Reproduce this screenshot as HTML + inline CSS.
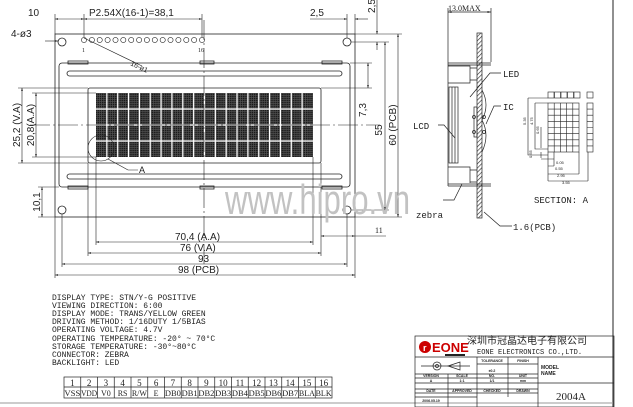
<!DOCTYPE html>
<html><head><meta charset="utf-8"><style>
html,body{margin:0;padding:0;background:#fff;}
svg{display:block;font-family:"Liberation Sans",sans-serif;}
text{fill:#222;}
.m{font-family:"Liberation Mono",monospace;}
.s{font-family:"Liberation Serif",serif;}
</style></head><body>
<svg width="633" height="407" viewBox="0 0 633 407" xmlns="http://www.w3.org/2000/svg">
<defs>
<marker id="a" viewBox="0 0 10 10" refX="10" refY="5" markerWidth="5" markerHeight="5" orient="auto-start-reverse"><path d="M0,2 L10,5 L0,8z" fill="#222"/></marker>
<pattern id="dots" width="2.17" height="2" patternUnits="userSpaceOnUse"><rect width="2.17" height="2" fill="#555"/><rect width="1.5" height="1.4" fill="#1a1a1a"/></pattern>
<pattern id="hatch" width="3" height="3" patternUnits="userSpaceOnUse" patternTransform="rotate(45)"><rect width="3" height="3" fill="#fff"/><line x1="0" y1="0" x2="0" y2="3" stroke="#333" stroke-width="1.3"/></pattern>
</defs>
<g stroke="#222" stroke-width="0.8" fill="none">
<rect x="55" y="34" width="300" height="183"/>
<circle cx="62" cy="42" r="4"/><circle cx="347" cy="42" r="4"/>
<circle cx="62" cy="210" r="4"/><circle cx="347" cy="210" r="4"/>
<rect x="59" y="63" width="291" height="124" rx="3"/>
<rect x="68" y="61" width="20" height="3"/><rect x="200" y="61" width="14" height="3"/><rect x="322" y="61" width="20" height="3"/>
<rect x="68" y="186" width="20" height="3"/><rect x="200" y="186" width="14" height="3"/><rect x="322" y="186" width="20" height="3"/>
<rect x="67" y="71" width="275" height="5" rx="2.5"/>
<rect x="67" y="174" width="275" height="5" rx="2.5"/>
<rect x="88" y="88" width="233" height="75" rx="2"/>
</g>
<rect x="96" y="93" width="217" height="64" fill="url(#dots)"/>
<g stroke="#fff" stroke-width="1.2">
<line x1="96" y1="109" x2="313" y2="109"/><line x1="96" y1="125" x2="313" y2="125"/><line x1="96" y1="141" x2="313" y2="141"/>
<line x1="106.85" y1="93" x2="106.85" y2="157"/><line x1="117.7" y1="93" x2="117.7" y2="157"/><line x1="128.55" y1="93" x2="128.55" y2="157"/><line x1="139.4" y1="93" x2="139.4" y2="157"/><line x1="150.25" y1="93" x2="150.25" y2="157"/><line x1="161.1" y1="93" x2="161.1" y2="157"/><line x1="171.95" y1="93" x2="171.95" y2="157"/><line x1="182.8" y1="93" x2="182.8" y2="157"/><line x1="193.65" y1="93" x2="193.65" y2="157"/><line x1="204.5" y1="93" x2="204.5" y2="157"/><line x1="215.35" y1="93" x2="215.35" y2="157"/><line x1="226.2" y1="93" x2="226.2" y2="157"/><line x1="237.05" y1="93" x2="237.05" y2="157"/><line x1="247.9" y1="93" x2="247.9" y2="157"/><line x1="258.75" y1="93" x2="258.75" y2="157"/><line x1="269.6" y1="93" x2="269.6" y2="157"/><line x1="280.45" y1="93" x2="280.45" y2="157"/><line x1="291.3" y1="93" x2="291.3" y2="157"/><line x1="302.15" y1="93" x2="302.15" y2="157"/>
</g>
<g stroke="#222" stroke-width="0.6" fill="none">
<circle cx="84" cy="40" r="2.6"/><circle cx="91.9" cy="40" r="2.6"/><circle cx="99.7" cy="40" r="2.6"/><circle cx="107.6" cy="40" r="2.6"/><circle cx="115.5" cy="40" r="2.6"/><circle cx="123.3" cy="40" r="2.6"/><circle cx="131.2" cy="40" r="2.6"/><circle cx="139.1" cy="40" r="2.6"/><circle cx="146.9" cy="40" r="2.6"/><circle cx="154.8" cy="40" r="2.6"/><circle cx="162.7" cy="40" r="2.6"/><circle cx="170.5" cy="40" r="2.6"/><circle cx="178.4" cy="40" r="2.6"/><circle cx="186.3" cy="40" r="2.6"/><circle cx="194.1" cy="40" r="2.6"/><circle cx="202" cy="40" r="2.6"/>
<path d="M84 38 L142 66"/>
<circle cx="101" cy="148" r="13"/>
<path d="M108 159 L128 170 L138 170"/>
<line x1="30" y1="125" x2="380" y2="125" stroke-dasharray="20 3 2 3"/>
<line x1="204" y1="20" x2="204" y2="265" stroke-dasharray="20 3 2 3"/>
<line x1="55" y1="14" x2="55" y2="34"/><line x1="84" y1="14" x2="84" y2="37"/><line x1="202" y1="14" x2="202" y2="37"/>
<line x1="55" y1="19" x2="84" y2="19" marker-start="url(#a)" marker-end="url(#a)"/>
<line x1="84" y1="19" x2="202" y2="19" marker-start="url(#a)" marker-end="url(#a)"/>
<line x1="310" y1="19" x2="347" y2="19" marker-end="url(#a)"/><line x1="355" y1="19" x2="368" y2="19" marker-start="url(#a)"/>
<line x1="347" y1="14" x2="347" y2="38"/><line x1="355" y1="14" x2="355" y2="34"/>
<line x1="45" y1="41" x2="58" y2="41" marker-end="url(#a)"/>
<line x1="96" y1="157" x2="96" y2="245"/><line x1="313" y1="157" x2="313" y2="245"/>
<line x1="88" y1="163" x2="88" y2="256"/><line x1="321" y1="163" x2="321" y2="256"/>
<line x1="62" y1="214" x2="62" y2="267"/><line x1="347" y1="214" x2="347" y2="267"/>
<line x1="55" y1="217" x2="55" y2="278"/><line x1="355" y1="217" x2="355" y2="278"/>
<line x1="96" y1="242" x2="313" y2="242" marker-start="url(#a)" marker-end="url(#a)"/>
<line x1="88" y1="253" x2="321" y2="253" marker-start="url(#a)" marker-end="url(#a)"/>
<line x1="62" y1="264" x2="347" y2="264" marker-start="url(#a)" marker-end="url(#a)"/>
<line x1="55" y1="275" x2="355" y2="275" marker-start="url(#a)" marker-end="url(#a)"/>
<line x1="321" y1="236" x2="355" y2="236" marker-start="url(#a)" marker-end="url(#a)"/><line x1="355" y1="236" x2="386" y2="236"/>
<line x1="18" y1="88" x2="88" y2="88"/><line x1="18" y1="163" x2="88" y2="163"/>
<line x1="32" y1="93" x2="96" y2="93"/><line x1="32" y1="157" x2="96" y2="157"/>
<line x1="22" y1="88" x2="22" y2="163" marker-start="url(#a)" marker-end="url(#a)"/>
<line x1="36" y1="93" x2="36" y2="157" marker-start="url(#a)" marker-end="url(#a)"/>
<line x1="38" y1="187" x2="59" y2="187"/><line x1="38" y1="217" x2="55" y2="217"/>
<line x1="42" y1="187" x2="42" y2="217" marker-start="url(#a)" marker-end="url(#a)"/>
<line x1="350" y1="63" x2="372" y2="63"/><line x1="321" y1="88" x2="372" y2="88"/>
<line x1="368" y1="63" x2="368" y2="88" marker-start="url(#a)" marker-end="url(#a)"/>
<line x1="351" y1="42" x2="389" y2="42"/><line x1="351" y1="210" x2="389" y2="210"/>
<line x1="385" y1="42" x2="385" y2="210" marker-start="url(#a)" marker-end="url(#a)"/>
<line x1="355" y1="34" x2="402" y2="34"/><line x1="355" y1="217" x2="402" y2="217"/>
<line x1="398" y1="34" x2="398" y2="217" marker-start="url(#a)" marker-end="url(#a)"/>
<line x1="377" y1="0" x2="377" y2="34" marker-end="url(#a)"/><line x1="377" y1="42" x2="377" y2="50" marker-start="url(#a)"/>
<line x1="613" y1="0" x2="613" y2="407" stroke-width="1"/>
<line x1="0" y1="403" x2="613" y2="403" stroke="#999" stroke-width="1"/>
</g>
<text x="225" y="214" font-size="42" style="fill:#c2c2c2" textLength="185" lengthAdjust="spacingAndGlyphs">www.hipro.vn</text>
<g font-size="10">
<text x="28" y="16">10</text>
<text x="89" y="16">P2.54X(16-1)=38,1</text>
<text x="310" y="16">2,5</text>
<text x="11" y="37">4-ø3</text>
<text x="130" y="65" font-size="7" transform="rotate(25 130 65)">16-ø1</text>
<text x="139" y="173" font-size="9">A</text>
<text x="175" y="240">70,4 (A.A)</text>
<text x="180" y="251">76 (V.A)</text>
<text x="198" y="262">93</text>
<text x="178" y="273">98 (PCB)</text>
<text x="375" y="233" font-size="8" class="s">11</text>
<text transform="translate(20 125) rotate(-90)" text-anchor="middle">25,2 (V.A)</text>
<text transform="translate(34 125) rotate(-90)" text-anchor="middle">20,8(A.A)</text>
<text transform="translate(40 202) rotate(-90)" text-anchor="middle">10,1</text>
<text transform="translate(366 110) rotate(-90)" text-anchor="middle">7,3</text>
<text transform="translate(382 130) rotate(-90)" text-anchor="middle">55</text>
<text transform="translate(396 125) rotate(-90)" text-anchor="middle">60 (PCB)</text>
<text transform="translate(375 6) rotate(-90)" text-anchor="middle">2,5</text>
</g>
<text x="82" y="52" font-size="6" class="s">1</text><text x="198" y="52" font-size="6" class="s">16</text>
<g stroke="#222" stroke-width="0.7" fill="none">
<line x1="448" y1="8" x2="448" y2="63"/><line x1="491" y1="8" x2="491" y2="62"/>
<line x1="448" y1="12" x2="491" y2="12" marker-start="url(#a)" marker-end="url(#a)"/>
<rect x="477" y="33" width="5" height="185" fill="url(#hatch)"/>
<line x1="448" y1="63" x2="491" y2="63"/><line x1="448" y1="65" x2="491" y2="65"/>
<line x1="448" y1="184" x2="491" y2="184"/><line x1="448" y1="186" x2="491" y2="186"/>
<path d="M448 63 V186 M448 66 H470 V83 H448 M470 68 H477 M470 80 H477 M448 167 H470 V183 M470 170 H477 M470 182 H477"/>
<rect x="449" y="87" width="9" height="76"/><line x1="452" y1="87" x2="452" y2="163"/><line x1="455" y1="87" x2="455" y2="163"/>
<rect x="474" y="107" width="3" height="30"/>
<path d="M482 90 Q490 105 482 120 Q490 135 482 152"/>
<circle cx="474" cy="117" r="1.5"/><circle cx="474" cy="132" r="1.5"/><circle cx="484" cy="117" r="1.5"/><circle cx="484" cy="132" r="1.5"/>
<path d="M438 125 H444 L455 138" /><path d="M501 73 H490 L470 97"/><path d="M501 106 H494 L486 124"/>
<path d="M443 200 H454 L462 184"/><path d="M512 226 H500 L484 212"/>
</g>
<g font-size="9" class="m">
<text x="448" y="11" font-size="8" class="s">13.0MAX</text>
<text x="503" y="77">LED</text>
<text x="503" y="110">IC</text>
<text x="413" y="129">LCD</text>
<text x="416" y="218">zebra</text>
<text x="513" y="230">1.6(PCB)</text>
<text x="534" y="203">SECTION: A</text>
</g>
<g stroke="#222" stroke-width="0.6" fill="none">
<rect x="548" y="92" width="6" height="6"/><rect x="554.5" y="92" width="6" height="6"/><rect x="561" y="92" width="6" height="6"/><rect x="567.5" y="92" width="6" height="6"/><rect x="574" y="92" width="6" height="6"/>
<rect x="587" y="92" width="6" height="6"/>
<rect x="548" y="103" width="31" height="49"/>
<path d="M554.2 103V152M560.4 103V152M566.6 103V152M572.8 103V152M548 109.1H579M548 115.2H579M548 121.4H579M548 127.5H579M548 133.6H579M548 139.8H579M548 145.9H579"/>
<rect x="587" y="103" width="6" height="49"/><path d="M587 109.1H593M587 115.2H593M587 121.4H593M587 127.5H593M587 133.6H593M587 139.8H593M587 145.9H593"/>
<path d="M528 98H548M528 98V155H548M535 103H548M535 103V149H548M541 127V148M541 152V158M548 152V181M554 152V166M579 152V174M588 152V181M541 159H554M548 166H554M548 174H579M548 181H588"/>
</g>
<g font-size="4">
<text transform="translate(526 125) rotate(-90)">5.35</text>
<text transform="translate(533 125) rotate(-90)">4.75</text>
<text transform="translate(539 134) rotate(-90)">0.65</text>
<text transform="translate(532 158) rotate(-90)">0.55</text>
<text x="556" y="164">0.05</text><text x="555" y="170">0.55</text><text x="557" y="177">2.95</text><text x="562" y="184">3.55</text>
</g>
<g class="m" font-size="8">
<text x="52" y="300">DISPLAY TYPE: STN/Y-G POSITIVE</text>
<text x="52" y="308">VIEWING DIRECTION: 6:00</text>
<text x="52" y="316">DISPLAY MODE: TRANS/YELLOW GREEN</text>
<text x="52" y="324">DRIVING METHOD: 1/16DUTY 1/5BIAS</text>
<text x="52" y="332">OPERATING VOLTAGE: 4.7V</text>
<text x="52" y="341">OPERATING TEMPERATURE: -20° ~ 70°C</text>
<text x="52" y="349">STORAGE TEMPERATURE: -30°~80°C</text>
<text x="52" y="357">CONNECTOR: ZEBRA</text>
<text x="52" y="365">BACKLIGHT: LED</text>
</g>
<g stroke="#222" stroke-width="0.7" fill="none">
<rect x="64" y="377" width="268" height="21"/><line x1="64" y1="387" x2="332" y2="387"/>
<path d="M80.75 377V398M97.5 377V398M114.25 377V398M131 377V398M147.75 377V398M164.5 377V398M181.25 377V398M198 377V398M214.75 377V398M231.5 377V398M248.25 377V398M265 377V398M281.75 377V398M298.5 377V398M315.25 377V398"/>
</g>
<g class="s" font-size="9" text-anchor="middle">
<text x="72.4" y="386">1</text><text x="89.1" y="386">2</text><text x="105.9" y="386">3</text><text x="122.6" y="386">4</text><text x="139.4" y="386">5</text><text x="156.1" y="386">6</text><text x="172.9" y="386">7</text><text x="189.6" y="386">8</text><text x="206.4" y="386">9</text><text x="223.1" y="386">10</text><text x="239.9" y="386">11</text><text x="256.6" y="386">12</text><text x="273.4" y="386">13</text><text x="290.1" y="386">14</text><text x="306.9" y="386">15</text><text x="323.6" y="386">16</text>
</g>
<g class="s" font-size="8" text-anchor="middle">
<text x="72.4" y="396" textLength="16" lengthAdjust="spacingAndGlyphs">VSS</text><text x="89.1" y="396" textLength="16" lengthAdjust="spacingAndGlyphs">VDD</text><text x="105.9" y="396">V0</text><text x="122.6" y="396">RS</text><text x="139.4" y="396">R/W</text><text x="156.1" y="396">E</text><text x="172.9" y="396" textLength="16" lengthAdjust="spacingAndGlyphs">DB0</text><text x="189.6" y="396" textLength="16" lengthAdjust="spacingAndGlyphs">DB1</text><text x="206.4" y="396" textLength="16" lengthAdjust="spacingAndGlyphs">DB2</text><text x="223.1" y="396" textLength="16" lengthAdjust="spacingAndGlyphs">DB3</text><text x="239.9" y="396" textLength="16" lengthAdjust="spacingAndGlyphs">DB4</text><text x="256.6" y="396" textLength="16" lengthAdjust="spacingAndGlyphs">DB5</text><text x="273.4" y="396" textLength="16" lengthAdjust="spacingAndGlyphs">DB6</text><text x="290.1" y="396" textLength="16" lengthAdjust="spacingAndGlyphs">DB7</text><text x="306.9" y="396" textLength="16" lengthAdjust="spacingAndGlyphs">BLA</text><text x="323.6" y="396" textLength="16" lengthAdjust="spacingAndGlyphs">BLK</text>
</g>
<g stroke="#222" stroke-width="0.7" fill="none">
<rect x="415" y="336" width="199" height="71"/>
<line x1="415" y1="357" x2="614" y2="357"/>
<line x1="538" y1="357" x2="538" y2="407"/><line x1="538" y1="383" x2="614" y2="383"/>
<line x1="477" y1="357" x2="477" y2="407"/><line x1="508" y1="357" x2="508" y2="397"/>
<line x1="448" y1="374" x2="448" y2="407"/>
<line x1="477" y1="364" x2="538" y2="364"/>
<line x1="415" y1="374" x2="538" y2="374"/><line x1="415" y1="378" x2="538" y2="378"/>
<line x1="415" y1="383" x2="538" y2="383"/><line x1="415" y1="389" x2="538" y2="389"/>
<line x1="415" y1="393" x2="538" y2="393"/><line x1="415" y1="397" x2="477" y2="397"/>
<line x1="421" y1="366" x2="470" y2="366"/><circle cx="437" cy="366" r="4"/><circle cx="437" cy="366" r="1.5"/>
<path d="M448 366 L460 362 V370 Z"/>
</g>
<circle cx="425" cy="347" r="6" fill="#c00"/>
<text x="423" y="351" font-size="9" font-weight="bold" style="fill:#fff">r</text>
<text x="432" y="352" font-size="13" font-weight="bold" style="fill:#c00">EONE</text>
<rect x="445" y="354" width="20" height="2" fill="#222"/>
<text x="467" y="344" font-size="10" style="font-family:'Liberation Sans','Noto Sans CJK SC',sans-serif">深圳市冠晶达电子有限公司</text>
<text x="477" y="354" font-size="7" class="m">EONE ELECTRONICS CO.,LTD.</text>
<g font-size="3.5" font-weight="bold" text-anchor="middle">
<text x="492" y="362">TOLERANCE</text><text x="523" y="362">FINISH</text><text x="492" y="372">±0.2</text>
<text x="431" y="377">VERSION</text><text x="462" y="377">SCALE</text><text x="492" y="377">NO.</text><text x="523" y="377">UNIT</text>
<text x="431" y="382">A</text><text x="462" y="382">1:1</text><text x="492" y="382">1/1</text><text x="523" y="382">mm</text>
<text x="431" y="392">DATE</text><text x="462" y="392">APPROVED</text><text x="492" y="392">CHECKED</text><text x="523" y="392">DRAWN</text>
<text x="431" y="402">2006.05.19</text>
</g>
<text x="541" y="369" font-size="5" font-weight="bold">MODEL</text>
<text x="541" y="375" font-size="5" font-weight="bold">NAME</text>
<text x="556" y="400" font-size="11" class="s">2004A</text>
</svg>
</body></html>
